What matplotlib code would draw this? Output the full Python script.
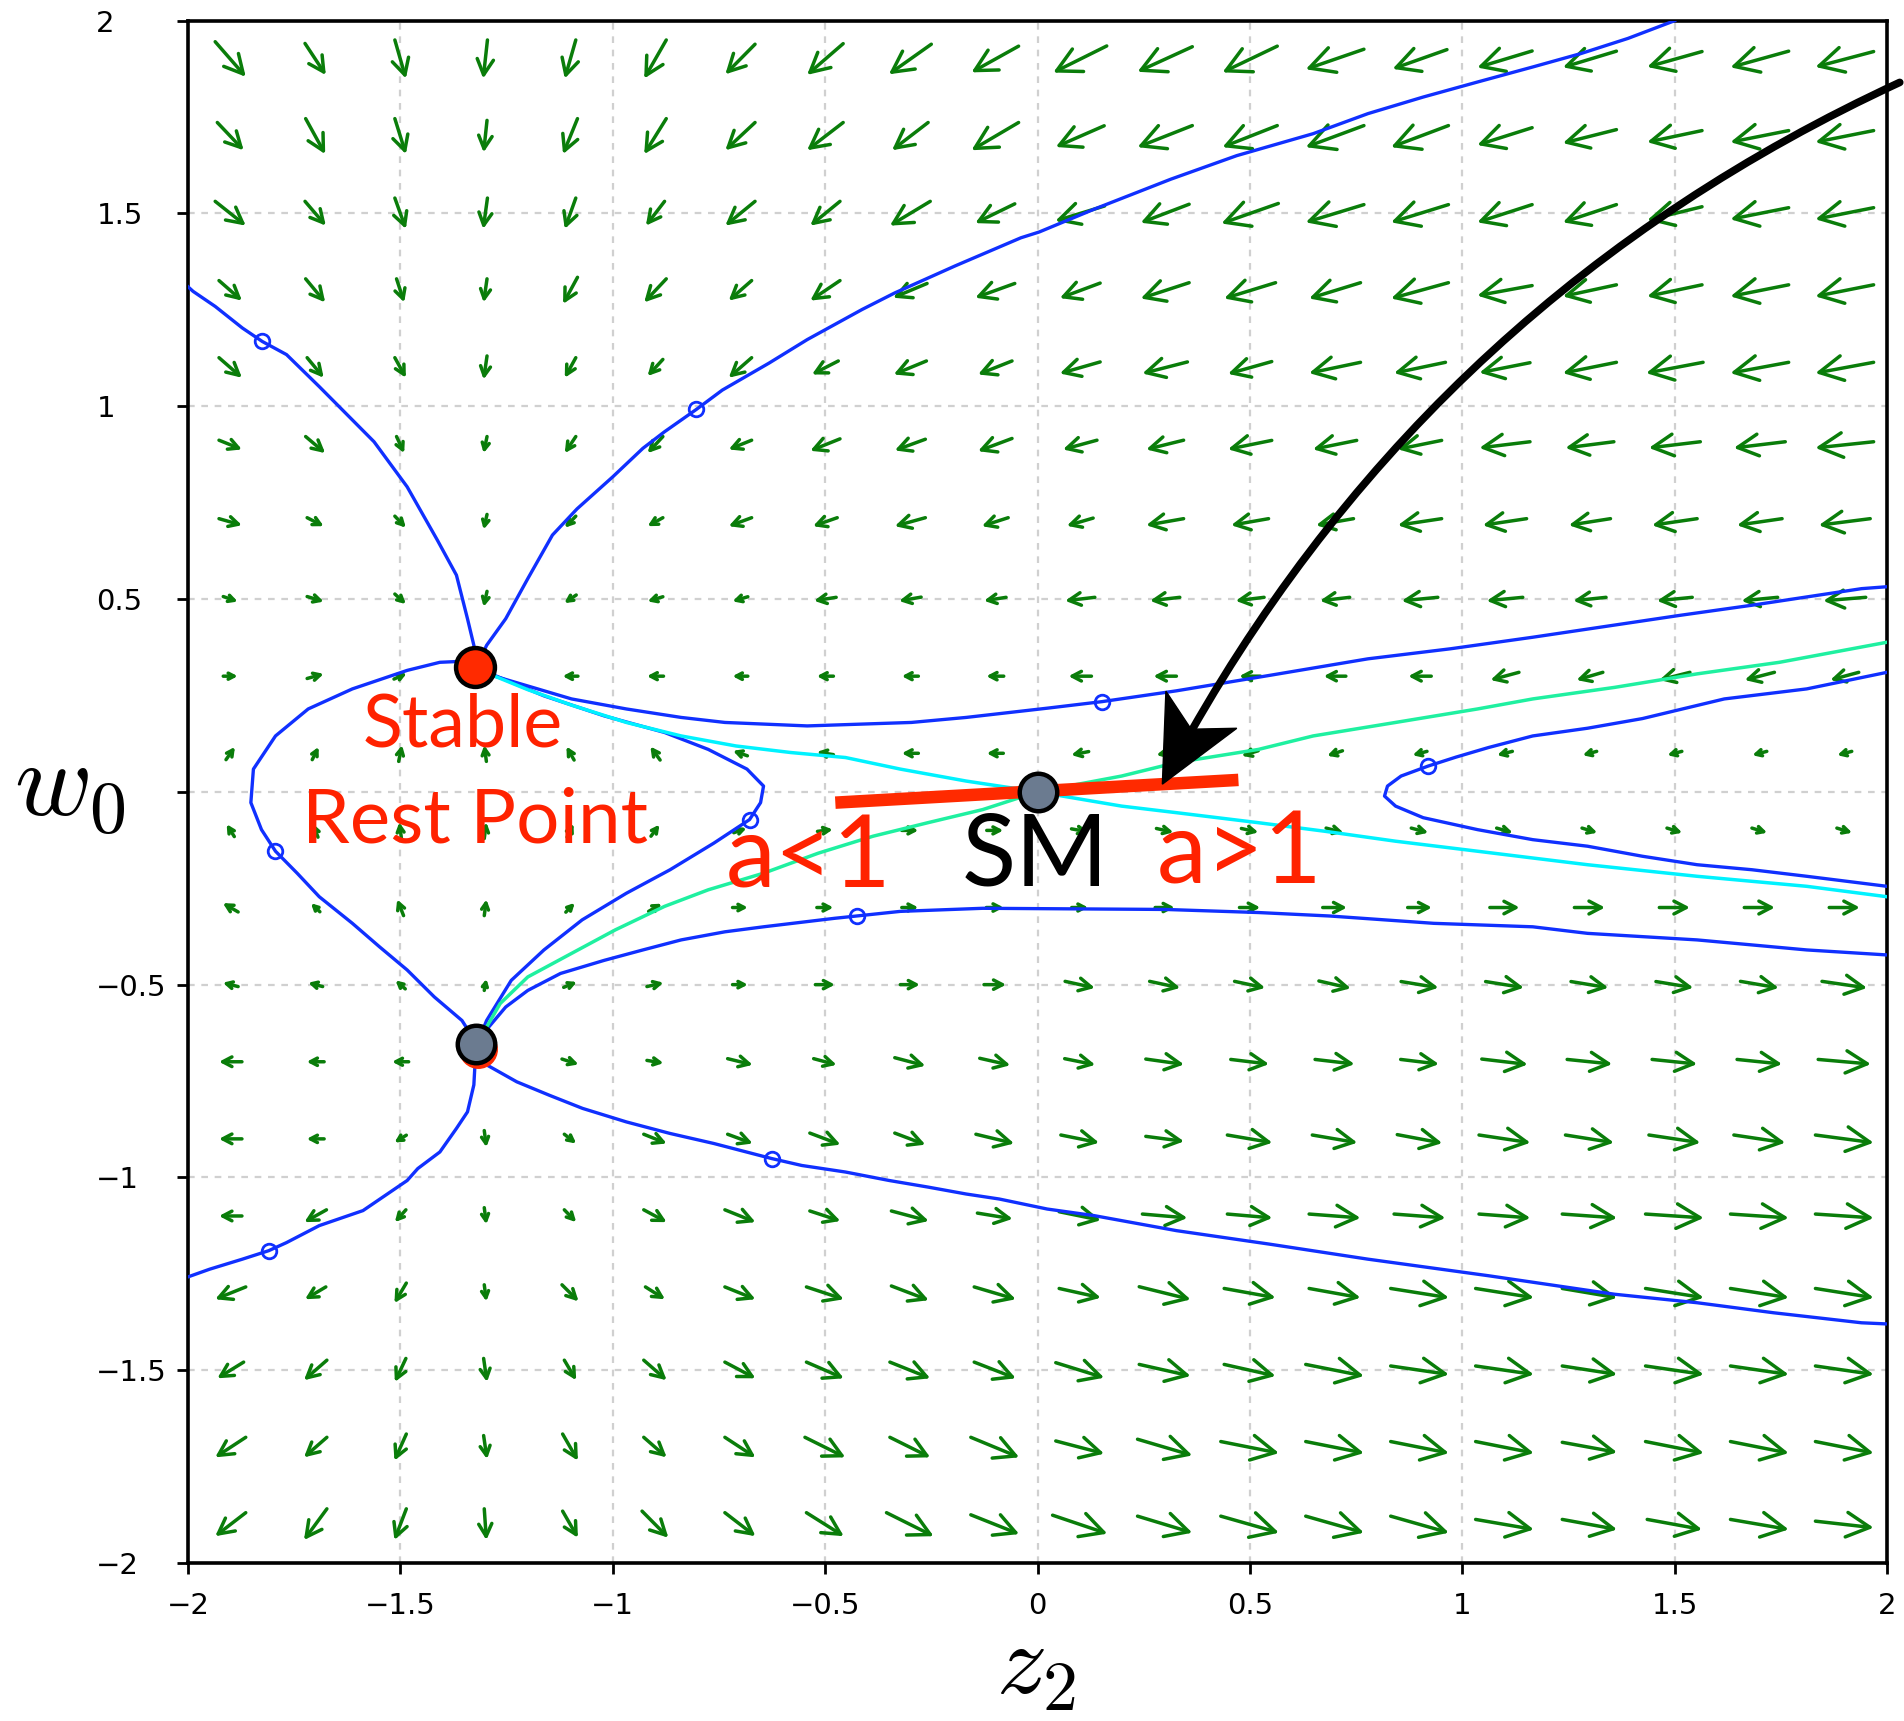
import numpy as np
import matplotlib
matplotlib.use("Agg")
import matplotlib.pyplot as plt
from matplotlib.patches import FancyArrowPatch, Polygon
from matplotlib.transforms import IdentityTransform

plt.rcParams['mathtext.fontset'] = 'cm'

# ---------------- data ----------------
grid_z = [-1.9, -1.7, -1.5, -1.3, -1.1, -0.9, -0.7, -0.5, -0.3, -0.1,
          0.1, 0.3, 0.5, 0.7, 0.9, 1.1, 1.3, 1.5, 1.7, 1.9]
grid_w = [1.9, 1.7, 1.5, 1.3, 1.1, 0.9, 0.7, 0.5, 0.3, 0.1,
          -0.1, -0.3, -0.5, -0.7, -0.9, -1.1, -1.3, -1.5, -1.7, -1.9]

# arrow components (data units), one row per grid_w value
field_u = [
    [0.072, 0.049, 0.026, -0.010, -0.026, -0.052, -0.070, -0.085, -0.100, -0.111, -0.126, -0.129, -0.129, -0.137, -0.128, -0.129, -0.126, -0.129, -0.137, -0.137],
    [0.062, 0.046, 0.026, -0.008, -0.034, -0.052, -0.070, -0.085, -0.085, -0.111, -0.114, -0.129, -0.129, -0.137, -0.135, -0.129, -0.126, -0.129, -0.137, -0.137],
    [0.072, 0.049, 0.026, -0.010, -0.026, -0.044, -0.070, -0.070, -0.095, -0.093, -0.116, -0.114, -0.134, -0.137, -0.135, -0.129, -0.126, -0.129, -0.137, -0.137],
    [0.054, 0.046, 0.018, -0.008, -0.034, -0.052, -0.054, -0.070, -0.080, -0.093, -0.095, -0.114, -0.121, -0.121, -0.135, -0.129, -0.126, -0.129, -0.137, -0.137],
    [0.054, 0.039, 0.026, -0.008, -0.026, -0.036, -0.054, -0.062, -0.077, -0.080, -0.095, -0.106, -0.103, -0.121, -0.121, -0.119, -0.126, -0.134, -0.137, -0.137],
    [0.054, 0.046, 0.018, -0.008, -0.026, -0.036, -0.054, -0.070, -0.072, -0.080, -0.080, -0.088, -0.103, -0.103, -0.103, -0.119, -0.114, -0.121, -0.121, -0.137],
    [0.054, 0.039, 0.026, -0.008, -0.026, -0.036, -0.054, -0.057, -0.072, -0.062, -0.062, -0.088, -0.088, -0.088, -0.103, -0.103, -0.098, -0.106, -0.106, -0.121],
    [0.034, 0.039, 0.026, -0.008, -0.028, -0.036, -0.036, -0.052, -0.052, -0.052, -0.070, -0.070, -0.067, -0.070, -0.085, -0.085, -0.077, -0.083, -0.085, -0.100],
    [0.034, 0.039, 0.030, 0.005, -0.036, -0.039, -0.036, -0.039, -0.039, -0.041, -0.054, -0.054, -0.050, -0.052, -0.054, -0.067, -0.062, -0.072, -0.070, -0.067],
    [0.021, 0.015, 0.008, -0.005, -0.018, -0.023, -0.034, -0.039, -0.039, -0.039, -0.041, -0.040, -0.039, -0.036, -0.034, -0.036, -0.033, -0.034, -0.034, -0.034],
    [-0.018, -0.012, -0.005, 0.005, 0.015, 0.020, 0.030, 0.036, 0.039, 0.039, 0.040, 0.040, 0.040, 0.041, 0.040, 0.038, 0.036, 0.036, 0.036, 0.036],
    [-0.036, -0.021, -0.015, 0.005, 0.021, 0.031, 0.036, 0.039, 0.039, 0.041, 0.039, 0.046, 0.049, 0.057, 0.057, 0.070, 0.072, 0.072, 0.072, 0.072],
    [-0.036, -0.034, -0.023, 0.005, 0.031, 0.039, 0.036, 0.046, 0.046, 0.052, 0.070, 0.072, 0.072, 0.075, 0.088, 0.090, 0.088, 0.088, 0.090, 0.106],
    [-0.054, -0.041, -0.039, 0.005, 0.039, 0.039, 0.059, 0.054, 0.072, 0.072, 0.072, 0.090, 0.090, 0.093, 0.090, 0.108, 0.106, 0.106, 0.106, 0.124],
    [-0.054, -0.041, -0.028, 0.005, 0.028, 0.054, 0.059, 0.072, 0.072, 0.090, 0.090, 0.090, 0.106, 0.106, 0.106, 0.121, 0.114, 0.121, 0.121, 0.137],
    [-0.054, -0.052, -0.026, 0.005, 0.028, 0.054, 0.072, 0.072, 0.088, 0.083, 0.098, 0.106, 0.106, 0.121, 0.121, 0.121, 0.129, 0.137, 0.137, 0.137],
    [-0.072, -0.049, -0.028, 0.005, 0.039, 0.046, 0.072, 0.088, 0.088, 0.098, 0.098, 0.121, 0.121, 0.121, 0.137, 0.137, 0.129, 0.137, 0.137, 0.137],
    [-0.062, -0.054, -0.026, 0.008, 0.028, 0.054, 0.072, 0.088, 0.095, 0.098, 0.114, 0.121, 0.121, 0.137, 0.137, 0.137, 0.129, 0.137, 0.137, 0.137],
    [-0.072, -0.054, -0.028, 0.008, 0.036, 0.054, 0.072, 0.095, 0.095, 0.114, 0.114, 0.129, 0.137, 0.137, 0.137, 0.137, 0.129, 0.137, 0.137, 0.137],
    [-0.072, -0.054, -0.028, 0.005, 0.036, 0.062, 0.072, 0.088, 0.111, 0.114, 0.129, 0.129, 0.137, 0.137, 0.137, 0.137, 0.129, 0.129, 0.137, 0.137],
]
field_v = [
    [-0.091, -0.082, -0.100, -0.100, -0.100, -0.100, -0.078, -0.081, -0.078, -0.068, -0.069, -0.065, -0.068, -0.052, -0.050, -0.043, -0.042, -0.040, -0.042, -0.040],
    [-0.072, -0.092, -0.092, -0.083, -0.092, -0.092, -0.072, -0.072, -0.072, -0.072, -0.055, -0.056, -0.056, -0.056, -0.056, -0.045, -0.035, -0.030, -0.030, -0.030],
    [-0.063, -0.063, -0.080, -0.080, -0.080, -0.063, -0.063, -0.063, -0.063, -0.050, -0.039, -0.048, -0.052, -0.046, -0.046, -0.046, -0.046, -0.035, -0.030, -0.030],
    [-0.052, -0.061, -0.061, -0.061, -0.069, -0.061, -0.052, -0.052, -0.037, -0.037, -0.039, -0.041, -0.041, -0.041, -0.041, -0.026, -0.030, -0.030, -0.030, -0.030],
    [-0.052, -0.052, -0.052, -0.061, -0.052, -0.043, -0.052, -0.035, -0.035, -0.035, -0.030, -0.030, -0.032, -0.028, -0.028, -0.026, -0.028, -0.028, -0.028, -0.028],
    [-0.024, -0.043, -0.043, -0.043, -0.043, -0.043, -0.024, -0.031, -0.029, -0.033, -0.024, -0.024, -0.023, -0.023, -0.023, -0.016, -0.016, -0.016, -0.016, -0.016],
    [-0.017, -0.022, -0.030, -0.039, -0.030, -0.022, -0.022, -0.022, -0.022, -0.022, -0.020, -0.017, -0.017, -0.017, -0.017, -0.017, -0.017, -0.017, -0.017, -0.017],
    [-0.013, -0.013, -0.026, -0.040, -0.021, -0.012, -0.012, -0.009, -0.010, -0.009, -0.009, -0.009, -0.009, -0.009, -0.009, -0.009, -0.009, -0.009, -0.009, -0.009],
    [0.000, 0.012, 0.015, 0.000, 0.000, 0.000, 0.000, 0.000, 0.000, 0.000, 0.000, 0.000, 0.000, 0.000, 0.000, -0.020, -0.020, -0.020, -0.020, -0.020],
    [0.033, 0.033, 0.042, 0.042, 0.035, 0.035, 0.013, 0.007, 0.000, 0.000, -0.009, -0.009, -0.013, -0.013, -0.010, -0.010, -0.010, -0.010, -0.010, -0.010],
    [0.032, 0.035, 0.042, 0.042, 0.035, 0.030, 0.012, 0.005, 0.000, 0.000, -0.008, -0.010, -0.010, -0.012, -0.012, -0.012, -0.012, -0.012, -0.012, -0.012],
    [0.023, 0.022, 0.042, 0.042, 0.024, 0.020, 0.000, 0.000, 0.000, 0.000, 0.000, 0.000, 0.000, 0.000, 0.000, 0.000, 0.000, 0.000, 0.000, 0.000],
    [0.010, 0.010, 0.022, 0.030, 0.014, 0.010, 0.000, 0.000, 0.000, 0.000, -0.017, -0.017, -0.017, -0.019, -0.016, -0.016, -0.016, -0.016, -0.017, -0.017],
    [0.000, 0.000, 0.000, -0.005, -0.014, -0.007, -0.016, -0.016, -0.021, -0.018, -0.016, -0.014, -0.012, -0.012, -0.012, -0.014, -0.012, -0.012, -0.012, -0.012],
    [0.000, 0.000, -0.019, -0.043, -0.024, -0.024, -0.024, -0.030, -0.030, -0.024, -0.020, -0.013, -0.020, -0.020, -0.022, -0.020, -0.020, -0.020, -0.020, -0.020],
    [0.000, -0.032, -0.032, -0.043, -0.032, -0.032, -0.032, -0.026, -0.026, -0.015, -0.022, -0.010, -0.010, -0.010, -0.010, -0.010, -0.010, -0.010, -0.010, -0.010],
    [-0.032, -0.032, -0.052, -0.043, -0.043, -0.032, -0.032, -0.032, -0.037, -0.032, -0.024, -0.033, -0.024, -0.024, -0.024, -0.024, -0.024, -0.024, -0.024, -0.024],
    [-0.042, -0.052, -0.061, -0.061, -0.052, -0.052, -0.042, -0.042, -0.042, -0.042, -0.039, -0.030, -0.030, -0.030, -0.022, -0.022, -0.022, -0.022, -0.022, -0.022],
    [-0.052, -0.052, -0.069, -0.061, -0.069, -0.052, -0.052, -0.052, -0.052, -0.052, -0.033, -0.042, -0.030, -0.030, -0.030, -0.030, -0.026, -0.030, -0.030, -0.030],
    [-0.061, -0.081, -0.081, -0.081, -0.069, -0.069, -0.061, -0.061, -0.061, -0.050, -0.048, -0.043, -0.043, -0.043, -0.043, -0.026, -0.026, -0.026, -0.026, -0.017],
]

# trajectories (z2, w0)
upper_left_z = [-2.0, -1.988, -1.936, -1.872, -1.825, -1.768, -1.691, -1.562, -1.484, -1.413, -1.368, -1.342, -1.327, -1.320]
upper_left_w = [1.31, 1.298, 1.259, 1.203, 1.168, 1.134, 1.051, 0.908, 0.791, 0.653, 0.562, 0.449, 0.380, 0.330]

upper_right_z = [-1.318, -1.297, -1.252, -1.200, -1.142, -1.084, -1.000, -0.929, -0.878, -0.803, -0.742, -0.632, -0.542, -0.413, -0.336, -0.194, -0.039, 0.004, 0.133, 0.314, 0.469, 0.649, 0.778, 0.908, 1.036, 1.166, 1.280, 1.390, 1.500]
upper_right_w = [0.330, 0.380, 0.449, 0.553, 0.666, 0.734, 0.817, 0.891, 0.934, 0.992, 1.042, 1.112, 1.173, 1.251, 1.294, 1.364, 1.437, 1.452, 1.511, 1.589, 1.650, 1.707, 1.759, 1.802, 1.841, 1.880, 1.915, 1.954, 2.0]

outer_loop_z = [-1.325, -1.407, -1.484, -1.613, -1.717, -1.794, -1.846, -1.852, -1.827, -1.794, -1.743, -1.691, -1.613, -1.549, -1.484, -1.420, -1.355, -1.322]
outer_loop_w = [0.340, 0.336, 0.315, 0.267, 0.215, 0.145, 0.059, -0.028, -0.098, -0.154, -0.211, -0.272, -0.341, -0.402, -0.462, -0.532, -0.593, -0.650]

inner_loop_z = [-1.315, -1.278, -1.162, -1.020, -0.878, -0.775, -0.684, -0.645, -0.652, -0.678, -0.762, -0.865, -0.968, -1.072, -1.162, -1.239, -1.297, -1.318]
inner_loop_w = [0.315, 0.302, 0.249, 0.197, 0.154, 0.110, 0.059, 0.015, -0.028, -0.072, -0.133, -0.202, -0.263, -0.332, -0.410, -0.489, -0.593, -0.650]

upper_mid_z = [-1.310, -1.278, -1.097, -0.968, -0.839, -0.736, -0.542, -0.297, -0.168, 0.023, 0.152, 0.327, 0.546, 0.778, 0.972, 1.166, 1.514, 1.682, 1.940, 2.0]
upper_mid_w = [0.320, 0.300, 0.241, 0.215, 0.193, 0.180, 0.171, 0.180, 0.193, 0.217, 0.234, 0.262, 0.302, 0.345, 0.371, 0.401, 0.458, 0.484, 0.527, 0.532]

cyan_z = [-1.300, -1.200, -1.097, -0.968, -0.839, -0.710, -0.581, -0.452, -0.323, -0.168, 0.0, 0.198, 0.327, 0.520, 0.675, 0.843, 1.036, 1.295, 1.553, 1.811, 2.0]
cyan_w = [0.310, 0.265, 0.225, 0.180, 0.145, 0.119, 0.102, 0.089, 0.059, 0.028, 0.0, -0.037, -0.054, -0.080, -0.102, -0.128, -0.154, -0.189, -0.219, -0.245, -0.272]

green_z = [-1.318, -1.265, -1.200, -1.097, -0.994, -0.878, -0.775, -0.645, -0.516, -0.387, -0.258, -0.129, 0.0, 0.198, 0.327, 0.520, 0.649, 0.843, 1.036, 1.166, 1.359, 1.553, 1.747, 2.0]
green_w = [-0.650, -0.549, -0.480, -0.419, -0.358, -0.297, -0.254, -0.211, -0.159, -0.115, -0.080, -0.046, 0.0, 0.041, 0.076, 0.110, 0.145, 0.180, 0.215, 0.241, 0.271, 0.306, 0.336, 0.388]

lower_mid_z = [-1.315, -1.252, -1.200, -1.123, -1.020, -0.929, -0.839, -0.736, -0.645, -0.478, -0.426, -0.323, -0.129, 0.301, 0.520, 0.688, 0.933, 1.166, 1.295, 1.553, 1.811, 2.0]
lower_mid_w = [-0.640, -0.558, -0.515, -0.471, -0.437, -0.410, -0.384, -0.363, -0.350, -0.328, -0.322, -0.310, -0.302, -0.305, -0.313, -0.322, -0.341, -0.350, -0.367, -0.384, -0.410, -0.423]

hook_z = [2.0, 1.811, 1.617, 1.424, 1.295, 1.166, 1.062, 0.985, 0.920, 0.856, 0.824, 0.817, 0.843, 0.908, 1.036, 1.166, 1.295, 1.424, 1.553, 1.682, 1.811, 2.0]
hook_w = [0.310, 0.267, 0.241, 0.190, 0.165, 0.145, 0.115, 0.090, 0.067, 0.041, 0.015, -0.011, -0.037, -0.067, -0.098, -0.124, -0.141, -0.167, -0.189, -0.202, -0.219, -0.245]

lower_left_z = [-1.322, -1.327, -1.342, -1.368, -1.407, -1.459, -1.484, -1.536, -1.588, -1.691, -1.768, -1.810, -1.872, -1.949, -2.0]
lower_left_w = [-0.660, -0.760, -0.830, -0.873, -0.934, -0.977, -1.008, -1.047, -1.086, -1.125, -1.169, -1.190, -1.212, -1.238, -1.258]

lower_right_z = [-1.315, -1.297, -1.226, -1.149, -1.071, -0.968, -0.865, -0.762, -0.626, -0.555, -0.452, -0.349, -0.258, -0.168, -0.090, 0.023, 0.133, 0.327, 0.546, 0.778, 1.062, 1.359, 1.553, 1.733, 1.940, 2.0]
lower_right_w = [-0.665, -0.708, -0.752, -0.787, -0.821, -0.856, -0.886, -0.912, -0.951, -0.969, -0.986, -1.008, -1.025, -1.043, -1.056, -1.082, -1.099, -1.138, -1.173, -1.212, -1.255, -1.303, -1.325, -1.351, -1.377, -1.380]

marker_z = [-1.825, -0.803, -1.794, -0.678, 0.152, -0.426, 0.920, -1.810, -0.626]
marker_w = [1.168, 0.992, -0.154, -0.072, 0.234, -0.322, 0.067, -1.190, -0.951]

stable_pt = (-1.325, 0.325)
saddle_pt = (-1.322, -0.655)
sm_pt = (0.0, 0.0)

red_line_z = [-0.476, 0.473]
red_line_w = [-0.028, 0.031]

arrow_start = (2.03, 1.84)
arrow_end = (0.294, 0.02)

xtick_vals = [-2, -1.5, -1, -0.5, 0, 0.5, 1, 1.5, 2]
xtick_labels = ['\u22122', '\u22121.5', '\u22121', '\u22120.5', '0', '0.5', '1', '1.5', '2']
ytick_vals = [-2, -1.5, -1, -0.5, 0, 0.5, 1, 1.5, 2]
ytick_labels = ['\u22122', '\u22121.5', '\u22121', '\u22120.5', '', '0.5', '1', '1.5', '2']

# ---------------- figure ----------------
W, H = 1904, 1721
DPI = 100
fig = plt.figure(figsize=(W / DPI, H / DPI), dpi=DPI)
ax = fig.add_axes([188 / W, 1 - 1563 / H, (1887 - 188) / W, (1563 - 20.7) / H])
ax.set_xlim(-2, 2)
ax.set_ylim(-2, 2)

ax.set_xticks(xtick_vals)
ax.set_xticklabels(xtick_labels)
ax.set_yticks(ytick_vals)
ax.set_yticklabels(ytick_labels)
ax.grid(True, color='#d0d0d0', linestyle=(0, (3, 3)), linewidth=1.6, zorder=0)
ax.set_axisbelow(True)
for sp in ax.spines.values():
    sp.set_linewidth(2.6)
ax.tick_params(axis='both', direction='out', length=8, width=2, labelsize=21)
ax.tick_params(axis='x', pad=13)
ax.tick_params(axis='y', pad=58)
for lab in ax.get_yticklabels():
    lab.set_horizontalalignment('left')

# vector field
px_per_pt = DPI / 72.0
for i, wv in enumerate(grid_w):
    for j, zv in enumerate(grid_z):
        u = field_u[i][j]
        v = field_v[i][j]
        if u == 0 and v == 0:
            continue
        pa = (zv - u / 2, wv - v / 2)
        pb = (zv + u / 2, wv + v / 2)
        p0 = ax.transData.transform(pa)
        p1 = ax.transData.transform(pb)
        L = np.hypot(*(p1 - p0)) / px_per_pt
        style = '->,head_length=%.3f,head_width=%.3f' % (0.4 * L, 0.21 * L)
        arr = FancyArrowPatch(pa, pb, arrowstyle=style, mutation_scale=1,
                              color='#0a7d0a', lw=2.5, shrinkA=0, shrinkB=0,
                              zorder=2)
        ax.add_patch(arr)

blue = '#1030ff'
for zz, ww in [(upper_left_z, upper_left_w), (upper_right_z, upper_right_w),
               (outer_loop_z, outer_loop_w), (inner_loop_z, inner_loop_w),
               (upper_mid_z, upper_mid_w), (lower_mid_z, lower_mid_w),
               (hook_z, hook_w), (lower_left_z, lower_left_w),
               (lower_right_z, lower_right_w)]:
    ax.plot(zz, ww, color=blue, lw=2.4, zorder=3)
ax.plot(cyan_z, cyan_w, color='#00f2ff', lw=2.5, zorder=3)
ax.plot(green_z, green_w, color='#1ff0a0', lw=2.5, zorder=3)
ax.plot(marker_z, marker_w, linestyle='none', marker='o', markersize=10.5,
        markerfacecolor='none', markeredgecolor=blue, markeredgewidth=2.0, zorder=4)

# red line
ax.plot(red_line_z, red_line_w, color='#ff2a00', lw=9, solid_capstyle='butt', zorder=5)

# fixed points
ax.plot([saddle_pt[0] + 0.004], [saddle_pt[1] - 0.012], 'o', markersize=27,
        markerfacecolor='#ff2a00', markeredgecolor='#ff2a00', zorder=6)
ax.plot([saddle_pt[0]], [saddle_pt[1]], 'o', markersize=27, markerfacecolor='#6b7b90',
        markeredgecolor='black', markeredgewidth=3.2, zorder=7)
ax.plot([sm_pt[0]], [sm_pt[1]], 'o', markersize=27, markerfacecolor='#6b7b90',
        markeredgecolor='black', markeredgewidth=3.2, zorder=7)
ax.plot([stable_pt[0]], [stable_pt[1]], 'o', markersize=28, markerfacecolor='#ff2a00',
        markeredgecolor='black', markeredgewidth=3.2, zorder=7)

# labels
red = '#ff2200'
ax.text(-1.354, 0.17, 'Stable', color=red, fontsize=53, family='Lato',
        ha='center', va='center', zorder=8)
ax.text(-1.325, -0.075, 'Rest Point', color=red, fontsize=55, family='Lato',
        ha='center', va='center', zorder=8)
ax.text(-0.54, -0.175, 'a<1', color=red, fontsize=72, family='Lato',
        ha='center', va='center', zorder=8)
ax.text(-0.005, -0.17, 'SM', color='black', fontsize=72, family='Lato',
        ha='center', va='center', zorder=8)
ax.text(0.475, -0.165, 'a>1', color=red, fontsize=72, family='Lato',
        ha='center', va='center', zorder=8)

# black curved arrow: curved shaft + swept (notched) head
rad = 0.17
A = ax.transData.transform(arrow_start)
B = ax.transData.transform(arrow_end)
d = B - A
C = (A + B) / 2 + rad * np.array([d[1], -d[0]])
t = (B - C) / np.hypot(*(B - C))
n = np.array([-t[1], t[0]])
head_len, head_half, notch = 84.0, 40.0, 62.0
shaft = FancyArrowPatch(arrow_start, arrow_end, connectionstyle='arc3,rad=%.2f' % rad,
                        arrowstyle='-', color='black', lw=5.5,
                        shrinkA=0, shrinkB=notch / px_per_pt - 2, zorder=9, clip_on=False)
ax.add_patch(shaft)
head_pts = np.array([B, B - head_len * t + head_half * n, B - notch * t,
                     B - head_len * t - head_half * n])
head = Polygon(head_pts, closed=True, facecolor='black', edgecolor='black', lw=1,
               transform=IdentityTransform(), zorder=9, clip_on=False)
ax.add_patch(head)

fig.text(70 / W, 1 - 787 / H, '$w_0$', fontsize=76, ha='center', va='center')
fig.text(1036 / W, 1 - 1694 / H, '$z_2$', fontsize=72, ha='center', va='baseline')

fig.savefig('out.png', dpi=DPI)
